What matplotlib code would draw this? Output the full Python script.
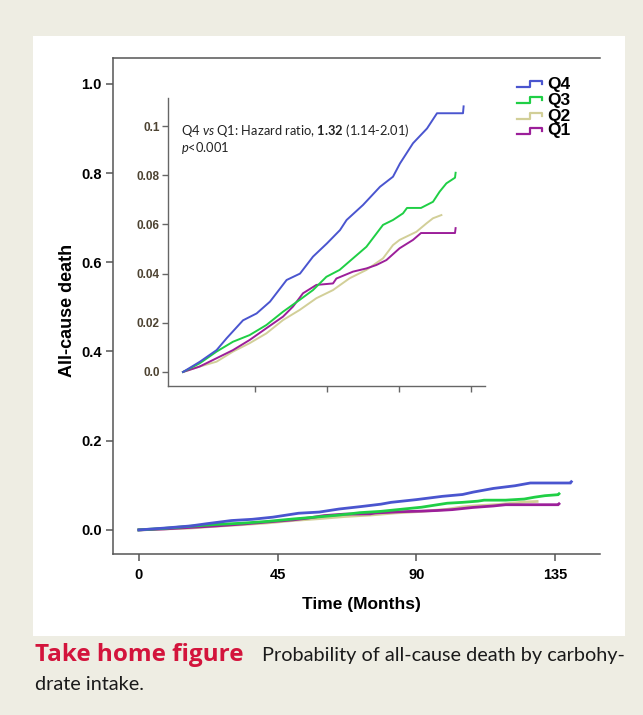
import matplotlib as mpl
import matplotlib.pyplot as plt
from matplotlib.lines import Line2D
from matplotlib.patches import Rectangle

# --- data (months, cumulative probability) ---
q4_months = [0, 8.5, 16.8, 21.8, 30, 36.8, 43.5, 51.8, 58.5, 65, 72, 78.5, 81.8, 90,
             98.5, 105, 108.5, 115, 122, 127, 140, 140.3]
q4_prob = [0, 0.0042, 0.0089, 0.0137, 0.021, 0.0238, 0.0286, 0.0374, 0.040, 0.0469,
           0.0523, 0.0577, 0.0618, 0.0679, 0.0753, 0.0794, 0.0848, 0.093, 0.099,
           0.1052, 0.1052, 0.108]

q3_months = [0, 8.3, 16.8, 25, 33.3, 41.7, 50, 58.3, 65, 71.7, 78.3, 85, 91.7, 100,
             105, 110, 112, 119, 125, 128.3, 131.7, 136, 136.3]
q3_prob = [0, 0.0035, 0.0083, 0.0123, 0.015, 0.0191, 0.0245, 0.0293, 0.0333, 0.0387,
           0.0415, 0.0462, 0.0509, 0.0598, 0.0618, 0.0645, 0.0667, 0.0667, 0.0692,
           0.0733, 0.0767, 0.079, 0.081]

q2_months = [0, 8.3, 16.8, 25, 33.3, 41.7, 50, 58.3, 66.7, 75, 83.3, 91.7, 100, 105,
             108.3, 116.7, 121.7, 125, 129.2]
q2_prob = [0, 0.0022, 0.0042, 0.0083, 0.0117, 0.0157, 0.0211, 0.0252, 0.030, 0.0333,
           0.0381, 0.0415, 0.0462, 0.0516, 0.0537, 0.057, 0.0604, 0.0625, 0.0638]

q1_months = [0, 8.3, 16.8, 25, 33.3, 41.7, 50, 55, 60, 66.7, 75, 76.7, 85, 91.7, 96.7,
             101.7, 108.3, 115, 119, 128.5, 136, 136.3]
q1_prob = [0, 0.0022, 0.0056, 0.0089, 0.013, 0.0178, 0.0225, 0.0266, 0.032, 0.0354,
           0.036, 0.038, 0.0408, 0.0421, 0.0435, 0.0455, 0.0503, 0.0537, 0.0565,
           0.0565, 0.0565, 0.0585]

series_names = ["Q4", "Q3", "Q2", "Q1"]
main_yticks = [0.0, 0.2, 0.4, 0.6, 0.8, 1.0]
main_xticks = [0, 45, 90, 135]
inset_yticks = [0.0, 0.02, 0.04, 0.06, 0.08, 0.1]
inset_ylabels = ["0.0", "0.02", "0.04", "0.06", "0.08", "0.1"]
inset_xticks = [36, 72, 108, 144]

COLORS = {"Q4": "#4a55cf", "Q3": "#1fcf45", "Q2": "#d2cf98", "Q1": "#9c1f9a"}
SERIES = {
    "Q4": (q4_months, q4_prob),
    "Q3": (q3_months, q3_prob),
    "Q2": (q2_months, q2_prob),
    "Q1": (q1_months, q1_prob),
}
DRAW_ORDER = ["Q2", "Q1", "Q3", "Q4"]

W, H = 643, 715
BG = "#eeede3"
SPINE = "#555555"
ARIAL = "Liberation Sans"

mpl.rcParams.update({
    "mathtext.fontset": "custom",
    "mathtext.rm": "Lato",
    "mathtext.it": "Lato:italic",
    "mathtext.bf": "Lato:bold",
})


def fx(x):
    return x / W


def fy(y):
    return 1 - y / H


fig = plt.figure(figsize=(W / 100, H / 100), dpi=100, facecolor=BG)
fig.add_artist(Rectangle((fx(33), fy(636)), fx(625) - fx(33), (636 - 36) / H,
                         transform=fig.transFigure, facecolor="white",
                         edgecolor="none", zorder=0))

# --- main axes ---
ax_w, ax_h = 600 - 113, 554 - 58
ax = fig.add_axes([fx(113), fy(554), ax_w / W, ax_h / H])
ax.set_facecolor("white")
for name in DRAW_ORDER:
    t, v = SERIES[name]
    ax.plot(t, v, color=COLORS[name], lw=2.0, solid_joinstyle="miter")
ax.set_xlim(-8.4, 149.6)
ax.set_ylim(-0.054, 1.058)
ax.spines["right"].set_visible(False)
for s in ("left", "bottom", "top"):
    ax.spines[s].set_color(SPINE)
    ax.spines[s].set_linewidth(1.1)
ax.set_yticks(main_yticks, [f"{v:.1f}" for v in main_yticks],
              fontfamily=ARIAL, fontweight="bold", fontsize=10.5)
ax.set_xticks(main_xticks, [str(v) for v in main_xticks],
              fontfamily=ARIAL, fontweight="bold", fontsize=10.5)
ax.tick_params(axis="both", length=5, width=1.1, color=SPINE, pad=3)
ax.tick_params(axis="x", pad=5)
ax.set_ylabel("All-cause death", fontfamily=ARIAL, fontweight="bold", fontsize=13,
              va="center")
ax.yaxis.set_label_coords((68 - 113) / ax_w, (554 - 310) / ax_h)
ax.set_xlabel("Time (Months)", fontfamily=ARIAL, fontweight="bold", fontsize=12.5,
              va="center")
ax.xaxis.set_label_coords((361 - 113) / ax_w, -(604 - 554) / ax_h)

# --- legend (step-shaped handles) ---
legend_y = [84, 100, 116, 131]
for name, y in zip(series_names, legend_y):
    xs = [fx(517), fx(530), fx(530), fx(542), fx(542)]
    ys = [fy(y + 3), fy(y + 3), fy(y - 3), fy(y - 3), fy(y)]
    fig.add_artist(Line2D(xs, ys, transform=fig.transFigure, color=COLORS[name],
                          lw=1.6))
    fig.text(fx(547), fy(y), name, fontfamily=ARIAL, fontweight="bold", fontsize=12.5,
             va="center", ha="left")

# --- inset axes ---
in_w = 485 - 168
ins = fig.add_axes([fx(168), fy(386), in_w / W, (386 - 98) / H])
ins.set_facecolor("none")
for name in DRAW_ORDER:
    t, v = SERIES[name]
    ins.plot(t, v, color=COLORS[name], lw=1.4)
ins.set_xlim(-7.5, 151)
ins.set_ylim(-0.0057, 0.1114)
for s in ("right", "top"):
    ins.spines[s].set_visible(False)
for s in ("left", "bottom"):
    ins.spines[s].set_color("#666666")
    ins.spines[s].set_linewidth(1.0)
ins.set_yticks(inset_yticks, inset_ylabels, fontfamily=ARIAL, fontweight="bold",
               fontsize=8.5, color="#4d4332")
ins.set_xticks(inset_xticks, [""] * len(inset_xticks))
ins.tick_params(axis="both", length=4, width=1.0, color="#666666", pad=2)

note_x = (181 - 168) / in_w
ins.text(note_x, 0.1 - (130 - 126) / 2460,
         r"Q4 $\mathit{vs}$ Q1: Hazard ratio, $\mathbf{1.32}$ (1.14-2.01)",
         transform=ins.get_yaxis_transform(), fontfamily="Lato", fontsize=9.3,
         color="#222222", va="center", ha="left")
ins.text(note_x, 0.1 - (148 - 126) / 2460,
         r"$\mathit{p}$<0.001", transform=ins.get_yaxis_transform(),
         fontfamily="Lato", fontsize=9.3, color="#222222", va="center", ha="left")

# --- caption ---
fig.text(fx(35), fy(655), "Take home figure", fontfamily="Open Sans", fontweight="bold",
         fontsize=17.5, color="#d3143c", va="center", ha="left")
fig.text(fx(262), fy(655), "Probability of all-cause death by carbohy-",
         fontfamily="Lato", fontsize=14.3, color="#1a1a1a", va="center", ha="left")
fig.text(fx(35), fy(684), "drate intake.", fontfamily="Lato", fontsize=14.3,
         color="#1a1a1a", va="center", ha="left")

fig.savefig("out.png", dpi=100, facecolor=BG)
